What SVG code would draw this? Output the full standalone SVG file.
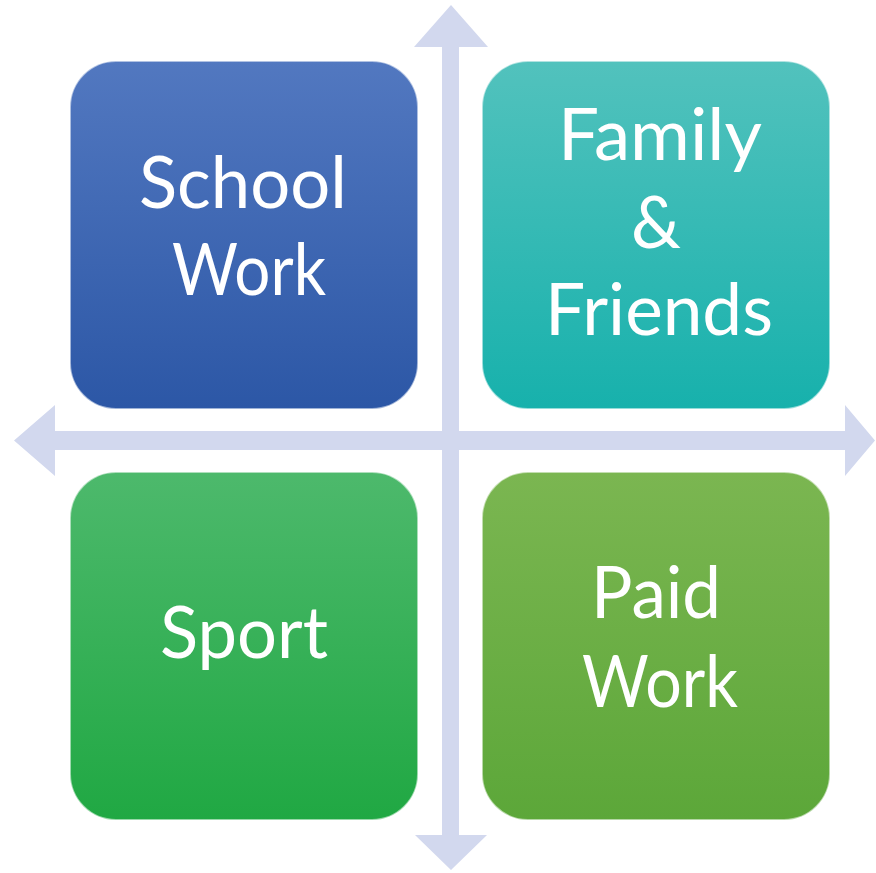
<svg xmlns="http://www.w3.org/2000/svg" width="876" height="873" viewBox="0 0 876 873">
<style>
.box{stroke:#ffffff;stroke-opacity:0.55;stroke-width:2}
.lbl{font-family:Lato,"Open Sans","Liberation Sans",sans-serif;font-size:72px;fill:#ffffff;text-anchor:middle}
.arrow{fill:#D2D8EE}
</style>
<defs>
<linearGradient id="gBlue" x1="0" y1="0" x2="0" y2="1"><stop offset="0" stop-color="#5278C0"/><stop offset="1" stop-color="#2C57A6"/></linearGradient>
<linearGradient id="gTeal" x1="0" y1="0" x2="0" y2="1"><stop offset="0" stop-color="#52C2BD"/><stop offset="1" stop-color="#17B1AC"/></linearGradient>
<linearGradient id="gGreen" x1="0" y1="0" x2="0" y2="1"><stop offset="0" stop-color="#4DB96C"/><stop offset="1" stop-color="#20A843"/></linearGradient>
<linearGradient id="gLime" x1="0" y1="0" x2="0" y2="1"><stop offset="0" stop-color="#7BB651"/><stop offset="1" stop-color="#5CA739"/></linearGradient>
</defs>
<rect width="876" height="873" fill="#ffffff"/>
<g id="connectors">
<polygon class="arrow" points="14,440.5 55,405 55,431 845,431 845,405 875,440.5 845,476 845,450 55,450 55,476"/>
<polygon class="arrow" points="451,5 488,47 459,47 459,835 487,835 451,870 415,835 442,835 442,47 414,47"/>
</g>
<g id="school-work">
<rect class="box" x="70" y="61" width="348" height="348" rx="46" fill="url(#gBlue)"/>
<text class="lbl" x="243" y="208" textLength="208" lengthAdjust="spacingAndGlyphs">School</text>
<text class="lbl" x="249" y="295" textLength="154" lengthAdjust="spacingAndGlyphs">Work</text>
</g>
<g id="family-friends">
<rect class="box" x="482" y="61" width="348" height="348" rx="46" fill="url(#gTeal)"/>
<text class="lbl" x="660" y="160" textLength="204" lengthAdjust="spacingAndGlyphs">Family</text>
<text class="lbl" x="656" y="248" textLength="50" lengthAdjust="spacingAndGlyphs">&amp;</text>
<text class="lbl" x="659" y="335" textLength="228" lengthAdjust="spacingAndGlyphs">Friends</text>
</g>
<g id="sport">
<rect class="box" x="70" y="472" width="348" height="348" rx="46" fill="url(#gGreen)"/>
<text class="lbl" x="244" y="658" textLength="168" lengthAdjust="spacingAndGlyphs">Sport</text>
</g>
<g id="paid-work">
<rect class="box" x="482" y="472" width="348" height="348" rx="46" fill="url(#gLime)"/>
<text class="lbl" x="656" y="618" textLength="130" lengthAdjust="spacingAndGlyphs">Paid</text>
<text class="lbl" x="660" y="707" textLength="156" lengthAdjust="spacingAndGlyphs">Work</text>
</g>
</svg>
